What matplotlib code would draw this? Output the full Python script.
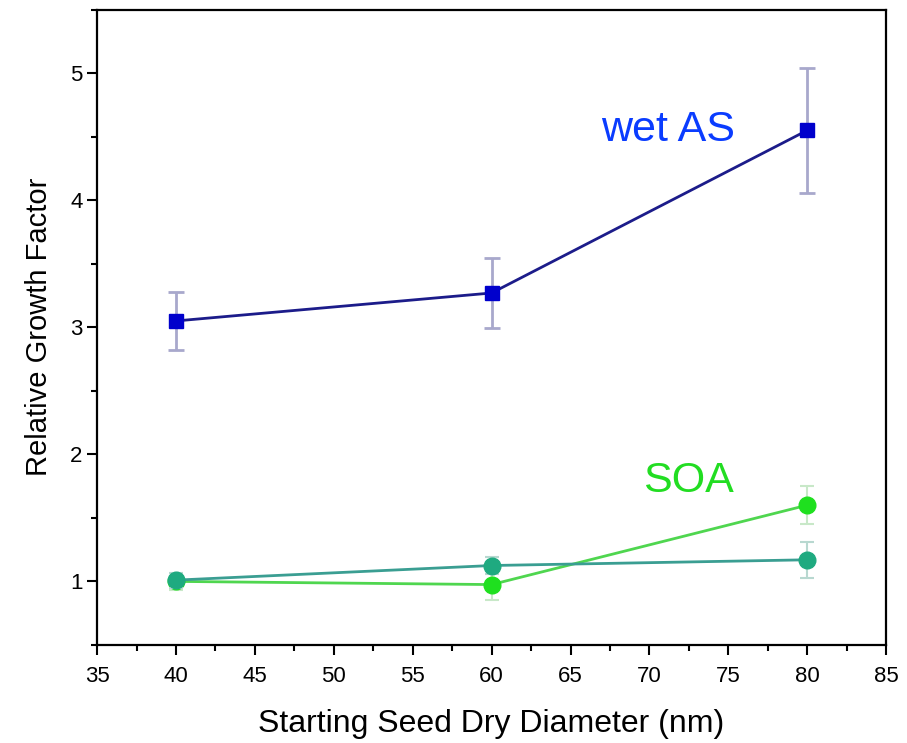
import matplotlib.pyplot as plt
from matplotlib.ticker import MultipleLocator

plt.rcParams['font.family'] = ['Liberation Sans', 'DejaVu Sans']

# diámetros de semilla (nm)
diametro = [40, 60, 80]

# factor de crecimiento relativo y errores
wet_as = [3.05, 3.27, 4.55]
wet_as_err = [0.225, 0.275, 0.49]

soa_teal = [1.01, 1.125, 1.17]
soa_teal_err = [0.06, 0.07, 0.14]

soa = [1.0, 0.975, 1.60]
soa_err = [0.07, 0.12, 0.15]

fig = plt.figure(figsize=(9.07, 7.43), dpi=100)
ax = fig.add_axes([0.107, 0.132, 0.870, 0.855])

ax.errorbar(diametro, wet_as, yerr=wet_as_err, color='#1c1c8a', lw=2,
            marker='s', ms=10, mfc='#0000cc', mec='#0000cc',
            ecolor='#a8a8cc', elinewidth=2, capsize=6, capthick=2, zorder=3)
ax.errorbar(diametro, soa, yerr=soa_err, color='#4fd64f', lw=2,
            marker='o', ms=12, mfc='#1fe01f', mec='#1fe01f',
            ecolor='#c8e8c8', elinewidth=1.5, capsize=5, capthick=1.5, zorder=2)
ax.errorbar(diametro, soa_teal, yerr=soa_teal_err, color='#3a9e92', lw=2,
            marker='o', ms=12, mfc='#1faa80', mec='#1faa80',
            ecolor='#b8d8d0', elinewidth=1.5, capsize=5, capthick=1.5, zorder=3)

ax.text(71.2, 4.55, 'wet AS', color='#0a3cff', fontsize=31,
        ha='center', va='center')
ax.text(72.5, 1.79, 'SOA', color='#22dd22', fontsize=31,
        ha='center', va='center')

ax.set_xlim(35, 85)
ax.set_ylim(0.5, 5.5)
ax.xaxis.set_major_locator(MultipleLocator(5))
ax.xaxis.set_minor_locator(MultipleLocator(2.5))
ax.yaxis.set_major_locator(MultipleLocator(1))
ax.yaxis.set_minor_locator(MultipleLocator(0.5))
ax.tick_params(which='major', direction='out', length=7, width=1.5,
               labelsize=16, top=False, right=False)
ax.tick_params(axis='x', which='major', pad=8)
ax.tick_params(which='minor', direction='out', length=4, width=1.5,
               top=False, right=False)
for s in ax.spines.values():
    s.set_linewidth(1.6)

ax.set_xlabel('Starting Seed Dry Diameter (nm)', fontsize=23, labelpad=16)
ax.set_ylabel('Relative Growth Factor', fontsize=21, labelpad=12)

fig.savefig('out.png', dpi=100)
